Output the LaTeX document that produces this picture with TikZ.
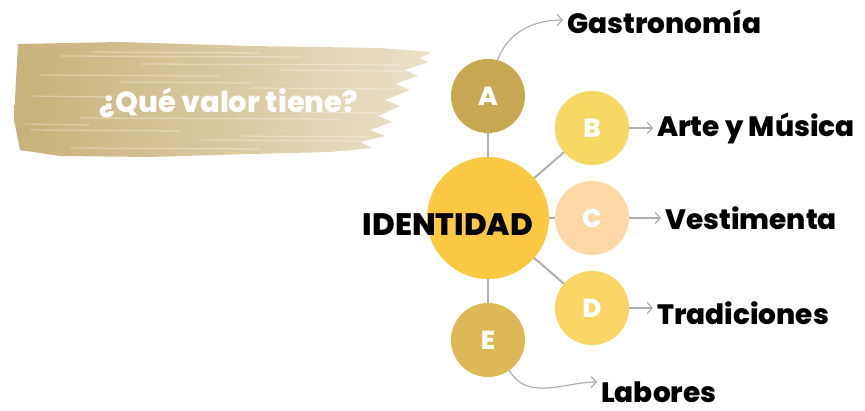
\documentclass[tikz,border=0pt]{standalone}
\usepackage{fontspec}
\setmainfont{Poppins}[BoldFont={Poppins ExtraBold}]
\usetikzlibrary{arrows.meta}
\definecolor{cidn}{HTML}{FDC945}
\definecolor{ca}{HTML}{C8A852}
\definecolor{cb}{HTML}{F5D862}
\definecolor{cc}{HTML}{FED8A6}
\definecolor{cd}{HTML}{F8D564}
\definecolor{ce}{HTML}{DDB955}
\definecolor{cline}{HTML}{AEAEAE}
\definecolor{brushl}{HTML}{C8B179}
\definecolor{brushr}{HTML}{EAE1C8}
\tikzset{
  bubble/.style={circle, minimum size=74pt, inner sep=0pt, text=white, font=\bfseries\fontsize{26}{26}\selectfont},
  item/.style={anchor=west, inner sep=0pt, font=\bfseries\fontsize{28}{28}\selectfont},
  link/.style={draw=cline, line width=2pt},
  pointer/.style={draw=cline, line width=1.2pt, -{Straight Barb[length=5pt,width=11pt]}, shorten >=4pt}
}
\begin{document}
\begin{tikzpicture}[x=1pt,y=-1pt]
	\useasboundingbox (0,0) rectangle (865,411);
	
	% brush banner
	\shade[left color=brushl, right color=brushr]
	  (18,44) -- (120,42) -- (250,46) -- (380,48) -- (432,52) -- (420,58) -- (428,62) -- (405,70) -- (418,76)
	  -- (395,84) -- (410,90) -- (385,100) -- (400,106) -- (378,116) -- (392,122) -- (370,130) -- (385,136)
	  -- (360,142) -- (372,148) -- (330,152) -- (250,154) -- (150,157) -- (60,156) -- (20,150) -- (14,120) -- (16,80) -- cycle;
	\foreach \y/\a/\b in {52/90/260, 56/60/300, 64/140/400, 70/280/410, 75/40/220, 82/120/250, 88/250/395, 96/30/110,
	  112/300/380, 118/80/340, 124/25/90, 130/30/180, 136/240/370, 140/200/360, 148/70/260}
	\draw[white, opacity=.3, line width=1.3pt] (\a,\y) -- (\b,\y+1);
	\node[text=white, font=\bfseries\fontsize{29}{29}\selectfont] (q) at (229,103) {¿Qué valor tiene?};
	
	% links from the centre
	\coordinate (idnc) at (488,218);
	\foreach \p in {(488,96),(592,128),(592,218),(592,308),(488,340)}
	\draw[link] (idnc) -- \p;
	
	% circles
	\node[bubble, fill=cidn, minimum size=122pt] (idn) at (idnc) {};
	\node[bubble, fill=ca] (a) at (488,96) {A};
	\node[bubble, fill=cb] (b) at (592,128) {B};
	\node[bubble, fill=cc] (c) at (592,218) {C};
	\node[bubble, fill=cd] (d) at (592,308) {D};
	\node[bubble, fill=ce] (e) at (488,340) {E};
	\node[item, anchor=center, font=\bfseries\fontsize{31}{31}\selectfont] (idtxt) at (448,225) {IDENTIDAD};
	
	% labels
	\node[item] (gas) at (567,22) {Gastronomía};
	\node[item] (art) at (657,128) {Arte y Música};
	\node[item] (ves) at (665,218) {Vestimenta};
	\node[item] (tra) at (657,313) {Tradiciones};
	\node[item] (lab) at (601,392) {Labores};
	
	% pointers
	\draw[pointer] (a.75) to[out=70,in=180] ([yshift=2pt]gas.west);
	\draw[pointer] (b.east) -- (b.east -| art.west);
	\draw[pointer] (c.east) -- (ves.west);
	\draw[pointer] (d.east) -- (d.east -| tra.west);
	\draw[pointer] (e.-55) to[out=-60,in=180] ([yshift=10pt]lab.west);
\end{tikzpicture}
\end{document}
